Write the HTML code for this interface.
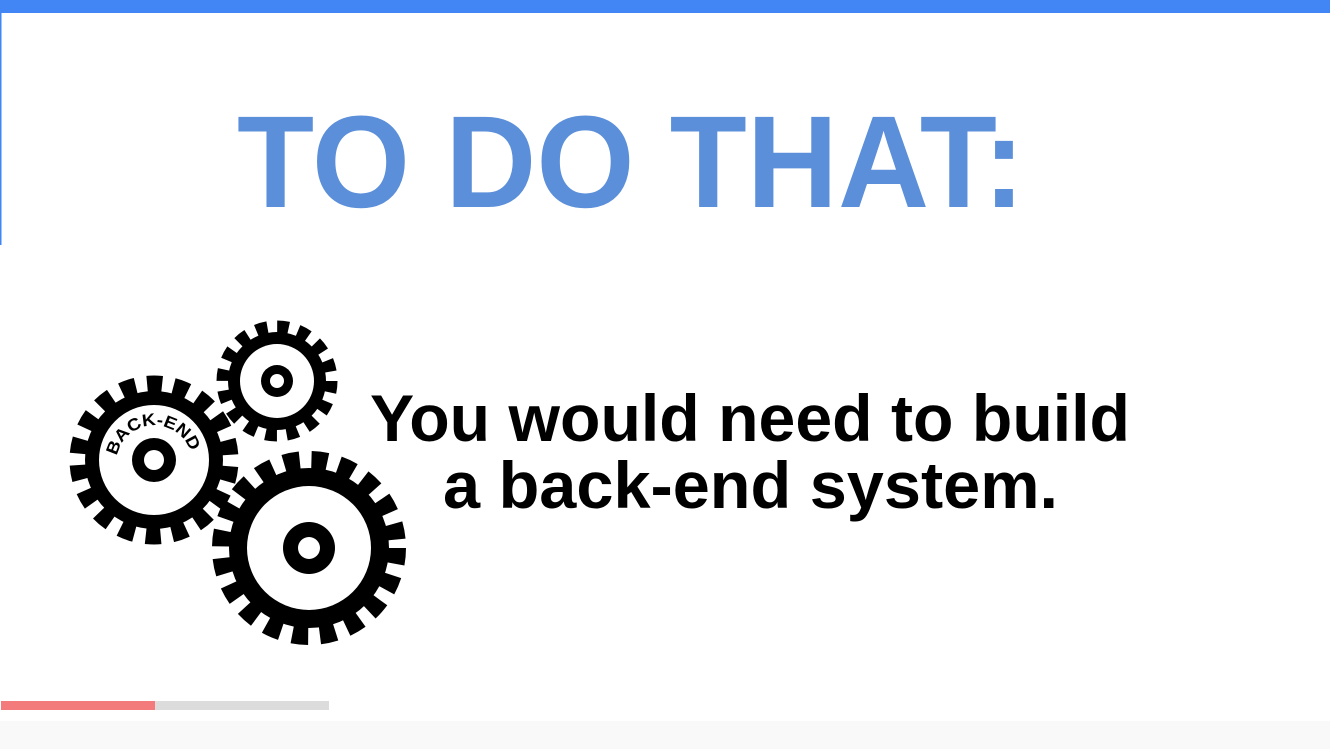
<!DOCTYPE html>
<html><head><meta charset="utf-8"><style>
html,body{margin:0;padding:0;background:#fff;}
svg{display:block;}
</style></head><body>
<svg width="1330" height="749" viewBox="0 0 1330 749" xmlns="http://www.w3.org/2000/svg">
<rect x="0" y="0" width="1330" height="749" fill="#fff"/>
<rect x="0" y="0" width="1330" height="13" fill="#4285f4"/>
<rect x="0" y="13" width="1.5" height="232" fill="#4285f4"/>
<rect x="0" y="721" width="1330" height="28" fill="#f9f9f9"/>
<rect x="1" y="701" width="154" height="9" fill="#f47b7c"/>
<rect x="155" y="701" width="174" height="9" fill="#dcdcdd"/>
<text x="237" y="207" font-family="Liberation Sans, sans-serif" font-weight="bold" font-size="131" fill="#5b8fd9" textLength="788" lengthAdjust="spacingAndGlyphs">TO DO THAT:</text>
<text x="370" y="441" font-family="Liberation Sans, sans-serif" font-weight="bold" font-size="66" fill="#000" textLength="760" lengthAdjust="spacingAndGlyphs">You would need to build</text>
<text x="443" y="508" font-family="Liberation Sans, sans-serif" font-weight="bold" font-size="66" fill="#000" textLength="615" lengthAdjust="spacingAndGlyphs">a back-end system.</text>
<!-- small gear -->
<g transform="translate(277,381)">
<circle r="54" fill="none" stroke="#000" stroke-width="13" stroke-dasharray="11.5 9.7"/>
<circle r="49" fill="#000"/><circle r="37" fill="#fff"/>
<circle r="16" fill="#000"/><circle r="7" fill="#fff"/>
</g>
<!-- left gear -->
<g transform="translate(154,460)">
<circle r="76" fill="none" stroke="#000" stroke-width="17" stroke-dasharray="15 11.5" transform="rotate(5)"/>
<circle r="69" fill="#000"/><circle r="55" fill="#fff"/>
<circle r="22" fill="#000"/><circle r="10" fill="#fff"/>
<path id="arc" d="M -37 -4 A 38 38 0 0 1 38 8" fill="none"/>
<text font-family="Liberation Sans, sans-serif" font-weight="bold" font-size="17" fill="#000"><textPath href="#arc" textLength="100" lengthAdjust="spacingAndGlyphs">BACK-END</textPath></text>
</g>
<!-- big gear -->
<g transform="translate(309,548)">
<circle r="88" fill="none" stroke="#000" stroke-width="18" stroke-dasharray="16 11.8"/>
<circle r="80" fill="#000"/><circle r="62" fill="#fff"/>
<circle r="26" fill="#000"/><circle r="11" fill="#fff"/>
</g>
</svg>
</body></html>
